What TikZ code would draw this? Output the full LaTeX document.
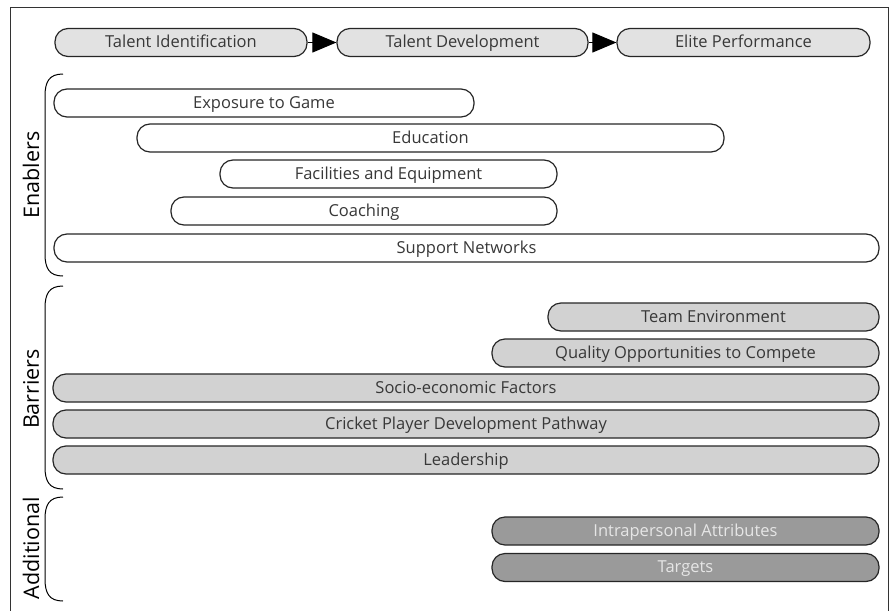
\documentclass[tikz,border=0pt]{standalone}
\usepackage{fontspec}
\setmainfont{Open Sans}
\usetikzlibrary{arrows.meta}
\definecolor{txt}{HTML}{383838}
\definecolor{topfill}{HTML}{E2E2E2}
\definecolor{barfill}{HTML}{D2D2D2}
\definecolor{addfill}{HTML}{9A9A9A}
\definecolor{addtxt}{HTML}{E6E6E6}
\tikzset{
  pill/.style={draw=black!85, line width=1.2pt, rounded corners=13pt, minimum height=28pt, inner sep=0pt, text height=13pt, text depth=3pt, text=txt, font=\fontsize{16.5}{18}\selectfont},
  topbox/.style={pill, fill=topfill},
  enbox/.style={pill, fill=white},
  barbox/.style={pill, fill=barfill},
  addbox/.style={pill, fill=addfill, text=addtxt},
  brace/.style={draw=black, line width=1pt},
  grouplabel/.style={rotate=90, font=\fontsize{21.5}{24}\selectfont, text=black},
  flow/.style={draw=black, line width=1pt, -{Triangle[length=24pt,width=20pt]}}
}
\begin{document}
\begin{tikzpicture}[x=1pt,y=-1pt]
\useasboundingbox (0,0) rectangle (893,610);
\draw[black!80, line width=0.8pt] (10,612) -- (10,7) -- (888,7) -- (888,612);
% top row
\node[topbox, minimum width=252pt] (ti) at (181,42.5) {Talent Identification};
\node[topbox, minimum width=251pt] (td) at (462.5,42.5) {Talent Development};
\node[topbox, minimum width=253pt] (ep) at (743.5,42.5) {Elite Performance};
\draw[flow] (ti.east) -- (td.west);
\draw[flow] (td.east) -- (ep.west);
% enablers
\node[enbox, minimum width=420pt] (exp) at (264,103) {Exposure to Game};
\node[enbox, minimum width=587pt] (edu) at (430.5,138) {Education};
\node[enbox, minimum width=337pt] (fac) at (388.5,174) {Facilities and Equipment};
\node[enbox, minimum width=386pt] (coa) at (364,211) {Coaching};
\node[enbox, minimum width=825pt] (sup) at (466.5,248) {Support Networks};
% barriers
\node[barbox, minimum width=331pt] (team) at (713.5,317) {Team Environment};
\node[barbox, minimum width=387pt] (qual) at (685.5,353) {Quality Opportunities to Compete};
\node[barbox, minimum width=826pt] (soc) at (466,388) {Socio-economic Factors};
\node[barbox, minimum width=826pt] (crk) at (466,424) {Cricket Player Development Pathway};
\node[barbox, minimum width=826pt] (lead) at (466,460) {Leadership};
% additional
\node[addbox, minimum width=387pt] (intra) at (685.5,531) {Intrapersonal Attributes};
\node[addbox, minimum width=387pt] (targ) at (685.5,567.5) {Targets};
% braces
\draw[brace] (63,74) .. controls (49,74) and (45,82) .. (45,96) -- (45,254) .. controls (45,268) and (49,276) .. (63,276);
\draw[brace] (63,286) .. controls (49,286) and (45,294) .. (45,308) -- (45,467) .. controls (45,481) and (49,489) .. (63,489);
\draw[brace] (63,497) .. controls (49,497) and (45,505) .. (45,519) -- (45,579) .. controls (45,593) and (49,601) .. (63,601);
% labels
\node[grouplabel] (lenab) at (31,175) {Enablers};
\node[grouplabel] (lbarr) at (31,389) {Barriers};
\node[grouplabel] (ladd) at (31,548) {Additional};
\end{tikzpicture}
\end{document}
